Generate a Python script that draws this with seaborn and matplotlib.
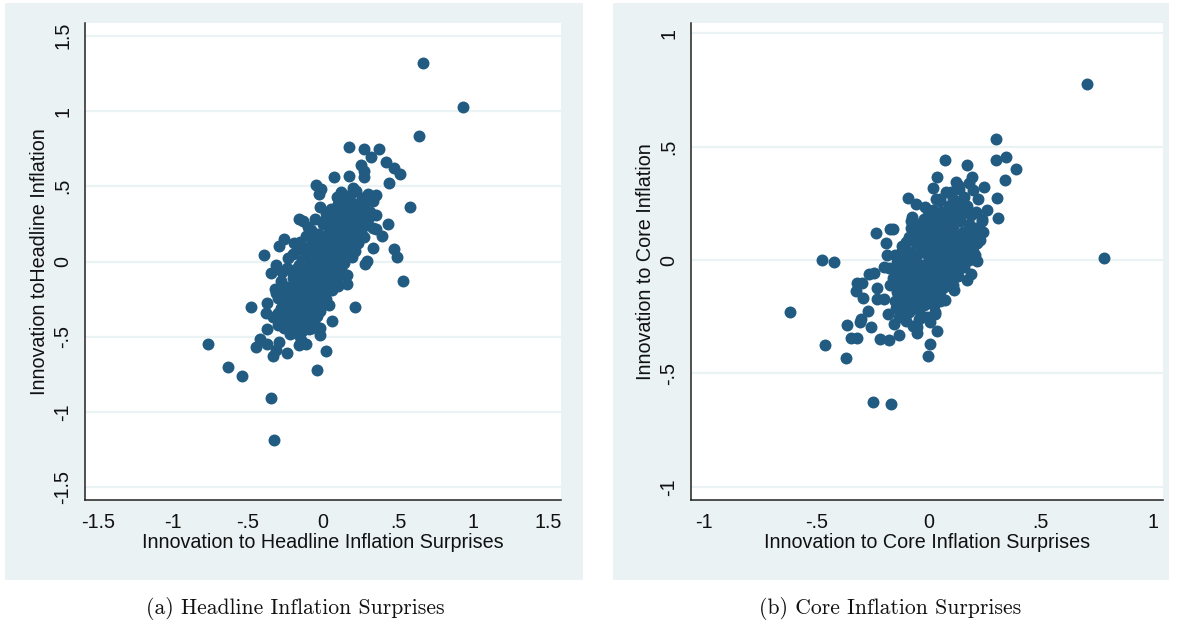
import numpy as np
import pandas as pd
import matplotlib
matplotlib.use("Agg")
import matplotlib.pyplot as plt
import seaborn as sns
from matplotlib.patches import Rectangle
from matplotlib.ticker import FuncFormatter

# ---------------- data ----------------
headline_outer = [
    (0.667, 1.32), (0.93, 1.027), (0.64, 0.835), (0.17, 0.76), (0.275, 0.748), (0.37, 0.745),
    (0.32, 0.695), (0.255, 0.64), (0.42, 0.66), (0.47, 0.62), (0.51, 0.58), (0.275, 0.60),
    (0.175, 0.57), (0.07, 0.56), (0.27, 0.56), (0.44, 0.525), (-0.045, 0.51), (-0.015, 0.485),
    (-0.025, 0.45), (0.58, 0.365), (0.43, 0.25), (0.355, 0.215), (0.39, 0.17), (0.335, 0.09),
    (0.47, 0.085), (0.49, 0.03), (0.29, 0.005), (0.28, -0.015), (0.535, -0.13), (0.16, -0.15),
    (0.21, -0.305), (0.06, -0.395), (0.02, -0.595), (-0.04, -0.72), (-0.02, -0.49), (-0.018, -0.445),
    (-0.395, 0.045), (-0.295, 0.105), (-0.262, 0.15), (-0.157, 0.285), (-0.31, -0.02), (-0.345, -0.075),
    (-0.32, -0.18), (-0.31, -0.21), (-0.477, -0.305), (-0.375, -0.275), (-0.38, -0.345), (-0.375, -0.45),
    (-0.42, -0.515), (-0.445, -0.57), (-0.375, -0.55), (-0.29, -0.535), (-0.31, -0.59), (-0.33, -0.625),
    (-0.237, -0.61), (-0.767, -0.55), (-0.635, -0.703), (-0.54, -0.763), (-0.345, -0.91), (-0.325, -1.185),
    (-0.145, -0.52), (-0.11, -0.55), (-0.16, -0.555), (-0.095, -0.45), (-0.12, -0.395),
]
headline_core = [
    (0.12, 0.46), (0.18, 0.44), (0.22, 0.47), (0.26, 0.42), (0.15, 0.41), (0.30, 0.45), (0.35, 0.44),
    (0.09, 0.43), (0.33, 0.40), (0.20, 0.49),
    (0.05, 0.35), (0.10, 0.38), (0.14, 0.33), (0.19, 0.36), (0.23, 0.31), (0.27, 0.37), (0.31, 0.33),
    (0.02, 0.32), (0.08, 0.30), (0.16, 0.39), (0.25, 0.34), (0.35, 0.31), (-0.02, 0.36), (0.12, 0.36),
    (0.21, 0.38),
    (-0.05, 0.28), (0.00, 0.25), (0.04, 0.22), (0.07, 0.27), (0.11, 0.24), (0.15, 0.29), (0.18, 0.21),
    (0.22, 0.26), (0.26, 0.23), (0.30, 0.28), (-0.10, 0.23), (-0.08, 0.21), (0.02, 0.29), (0.09, 0.20),
    (0.13, 0.27), (0.19, 0.25), (0.24, 0.20), (0.33, 0.22), (-0.13, 0.27), (0.06, 0.24),
    (-0.15, 0.13), (-0.11, 0.17), (-0.07, 0.12), (-0.03, 0.18), (0.01, 0.14), (0.05, 0.19), (0.08, 0.11),
    (0.12, 0.16), (0.16, 0.13), (0.20, 0.18), (0.23, 0.12), (0.27, 0.16), (-0.09, 0.19), (-0.01, 0.10),
    (0.03, 0.16), (0.10, 0.14), (0.14, 0.19), (0.18, 0.10), (-0.19, 0.12), (0.25, 0.19), (0.06, 0.13),
    (-0.05, 0.15),
    (-0.20, 0.05), (-0.16, 0.08), (-0.12, 0.03), (-0.08, 0.07), (-0.04, 0.02), (0.00, 0.06), (0.04, 0.09),
    (0.07, 0.01), (0.11, 0.05), (0.15, 0.08), (0.19, 0.03), (-0.14, 0.01), (-0.10, 0.09), (-0.02, 0.04),
    (0.02, 0.00), (0.09, 0.08), (0.13, 0.02), (0.17, 0.06), (-0.06, 0.00), (0.21, 0.07), (-0.23, 0.02),
    (0.05, 0.04),
    (-0.24, -0.04), (-0.20, -0.08), (-0.16, -0.02), (-0.12, -0.06), (-0.08, -0.03), (-0.04, -0.09),
    (0.00, -0.05), (0.04, -0.02), (0.08, -0.07), (0.12, -0.04), (0.16, -0.09), (-0.18, -0.05),
    (-0.14, -0.10), (-0.10, -0.01), (-0.06, -0.07), (-0.02, -0.01), (0.02, -0.08), (0.06, -0.04),
    (0.10, -0.10), (-0.27, -0.07), (0.14, -0.01), (-0.01, -0.06),
    (-0.28, -0.13), (-0.24, -0.17), (-0.20, -0.11), (-0.16, -0.15), (-0.12, -0.19), (-0.08, -0.12),
    (-0.04, -0.16), (0.00, -0.13), (0.04, -0.18), (0.08, -0.14), (-0.22, -0.20), (-0.18, -0.14),
    (-0.14, -0.12), (-0.10, -0.17), (-0.06, -0.20), (-0.02, -0.11), (0.02, -0.15), (0.06, -0.19),
    (-0.26, -0.18), (0.10, -0.16),
    (-0.30, -0.24), (-0.26, -0.28), (-0.22, -0.22), (-0.18, -0.26), (-0.14, -0.29), (-0.10, -0.23),
    (-0.06, -0.27), (-0.02, -0.21), (0.02, -0.25), (-0.28, -0.21), (-0.20, -0.29), (-0.16, -0.22),
    (-0.12, -0.26), (-0.08, -0.30), (-0.04, -0.24), (0.04, -0.29), (-0.24, -0.25),
    (-0.30, -0.34), (-0.26, -0.38), (-0.22, -0.32), (-0.18, -0.36), (-0.14, -0.31), (-0.10, -0.35),
    (-0.06, -0.39), (-0.02, -0.33), (-0.28, -0.31), (-0.20, -0.39), (-0.16, -0.33), (-0.12, -0.37),
    (-0.08, -0.32), (-0.04, -0.36), (-0.33, -0.37),
    (-0.26, -0.44), (-0.22, -0.48), (-0.18, -0.42), (-0.14, -0.46), (-0.10, -0.43), (-0.06, -0.41),
    (-0.30, -0.42), (-0.24, -0.41), (-0.16, -0.49), (-0.12, -0.40), (-0.20, -0.45),
    (-0.01, 0.00), (0.03, 0.03), (-0.05, -0.04), (-0.09, -0.09), (0.07, 0.07), (0.11, 0.12),
    (-0.13, -0.15), (-0.17, -0.19), (-0.21, -0.24), (-0.25, -0.30), (-0.23, -0.36), (-0.19, -0.31),
    (0.15, 0.16), (0.19, 0.22), (0.23, 0.29), (0.27, 0.34), (0.17, 0.30), (0.13, 0.22), (-0.03, -0.28),
    (-0.11, -0.29), (-0.15, -0.40), (0.00, 0.17), (-0.06, 0.09), (0.09, -0.02), (0.12, 0.42), (0.28, 0.42),
    (-0.07, -0.44), (-0.09, -0.38), (-0.13, -0.34), (-0.05, -0.31), (-0.27, -0.34), (-0.23, -0.29),
    (0.00, -0.20), (0.06, -0.10), (0.10, 0.02), (0.18, 0.14), (0.22, 0.22), (0.04, 0.12), (-0.03, 0.06),
    (-0.12, -0.02), (0.29, 0.24),
]

core_outer = [
    (0.705, 0.775), (0.784, 0.007), (0.30, 0.535), (0.299, 0.442), (0.347, 0.455), (0.388, 0.402),
    (0.34, 0.353), (0.247, 0.32), (0.307, 0.273), (0.31, 0.185), (0.262, 0.22), (0.24, 0.173),
    (0.241, 0.123), (0.215, 0.075), (0.206, 0.02), (0.218, -0.005), (0.19, -0.06), (0.17, -0.088),
    (0.115, -0.13), (0.075, -0.175), (0.075, 0.443), (0.17, 0.42), (0.193, 0.365), (0.039, 0.365),
    (0.02, 0.317), (0.034, 0.27), (0.122, 0.345), (0.136, 0.312), (-0.09, 0.273), (-0.054, 0.247),
    (-0.015, 0.235), (-0.074, 0.19), (-0.077, 0.173), (-0.233, 0.12), (-0.171, 0.135), (-0.16, 0.138),
    (-0.188, 0.075), (-0.185, 0.022), (-0.473, 0.002), (-0.42, -0.01), (-0.619, -0.228), (-0.461, -0.375),
    (-0.367, -0.43), (-0.247, -0.627), (-0.166, -0.635), (-0.003, -0.425), (0.007, -0.372), (0.04, -0.313),
    (0.03, -0.238), (-0.007, -0.252), (0.005, -0.275), (-0.049, -0.322), (-0.049, -0.297), (-0.133, -0.33),
    (-0.176, -0.352), (-0.216, -0.348), (-0.258, -0.295), (-0.317, -0.342), (-0.347, -0.345),
    (-0.364, -0.288), (-0.304, -0.275), (-0.30, -0.258), (-0.268, -0.225), (-0.29, -0.168),
    (-0.325, -0.135), (-0.32, -0.10), (-0.294, -0.10), (-0.263, -0.06), (-0.243, -0.058),
    (-0.196, -0.032), (-0.175, -0.035), (-0.23, -0.122), (-0.196, -0.172), (-0.18, -0.238),
    (-0.154, -0.28), (-0.23, -0.172),
]
core_core = [
    (0.08, 0.30), (0.13, 0.33), (0.16, 0.28), (0.20, 0.31), (0.05, 0.26), (0.11, 0.27), (0.18, 0.34),
    (0.22, 0.27),
    (-0.02, 0.18), (0.02, 0.22), (0.06, 0.17), (0.09, 0.24), (0.12, 0.19), (0.15, 0.23), (0.18, 0.16),
    (0.21, 0.21), (0.04, 0.20), (0.08, 0.15), (0.14, 0.17), (0.17, 0.24), (-0.05, 0.16), (0.24, 0.18),
    (0.10, 0.21),
    (-0.10, 0.08), (-0.06, 0.12), (-0.03, 0.07), (0.00, 0.13), (0.03, 0.09), (0.06, 0.14), (0.09, 0.06),
    (0.12, 0.11), (0.15, 0.08), (0.18, 0.13), (0.20, 0.07), (-0.08, 0.14), (-0.01, 0.10), (0.05, 0.06),
    (0.08, 0.12), (0.11, 0.15), (0.14, 0.05), (0.17, 0.10), (-0.12, 0.06), (0.02, 0.05), (0.22, 0.11),
    (-0.04, 0.09),
    (-0.14, -0.01), (-0.11, 0.03), (-0.08, -0.03), (-0.05, 0.02), (-0.02, -0.04), (0.01, 0.01),
    (0.04, -0.02), (0.07, 0.03), (0.10, -0.01), (0.13, 0.02), (0.16, -0.03), (-0.12, 0.04), (-0.09, 0.00),
    (-0.06, -0.05), (-0.03, 0.04), (0.00, -0.01), (0.03, 0.03), (0.06, -0.04), (0.09, 0.01),
    (0.12, -0.04), (0.15, 0.04), (0.18, 0.00), (-0.15, 0.02), (0.05, 0.00),
    (-0.16, -0.08), (-0.13, -0.12), (-0.10, -0.07), (-0.07, -0.11), (-0.04, -0.06), (-0.01, -0.13),
    (0.02, -0.09), (0.05, -0.14), (0.08, -0.08), (0.11, -0.11), (-0.14, -0.14), (-0.11, -0.09),
    (-0.08, -0.14), (-0.05, -0.10), (-0.02, -0.07), (0.01, -0.11), (0.04, -0.06), (0.07, -0.12),
    (0.13, -0.07), (-0.17, -0.11),
    (-0.15, -0.18), (-0.12, -0.22), (-0.09, -0.17), (-0.06, -0.21), (-0.03, -0.16), (0.00, -0.19),
    (0.03, -0.23), (-0.13, -0.16), (-0.10, -0.24), (-0.07, -0.18), (-0.04, -0.22), (-0.01, -0.17),
    (0.05, -0.18), (-0.11, -0.20),
    (-0.10, -0.27), (-0.07, -0.29), (-0.13, -0.25), (-0.04, -0.26),
    (-0.125, 0.01), (-0.095, -0.025), (-0.065, 0.005), (-0.035, -0.02), (-0.005, 0.025), (0.025, -0.035),
    (0.055, 0.015), (0.085, -0.025), (0.115, 0.025), (0.145, -0.015), (0.175, 0.03),
    (-0.115, 0.06), (-0.085, 0.10), (-0.055, 0.075), (-0.025, 0.115), (0.005, 0.08), (0.035, 0.12),
    (0.065, 0.095), (0.095, 0.13), (0.125, 0.085), (0.155, 0.125), (0.185, 0.09),
    (-0.035, 0.15), (-0.005, 0.19), (0.025, 0.16), (0.055, 0.21), (0.085, 0.18), (0.115, 0.23),
    (0.145, 0.20), (0.19, 0.20),
    (-0.135, -0.05), (-0.105, -0.10), (-0.075, -0.06), (-0.045, -0.12), (-0.015, -0.09), (0.015, -0.14),
    (0.045, -0.10), (0.075, -0.05), (0.105, -0.07),
    (-0.125, -0.165), (-0.095, -0.20), (-0.065, -0.15), (-0.035, -0.19), (-0.005, -0.15), (0.025, -0.20),
    (-0.145, -0.21), (-0.085, -0.23),
    (0.20, 0.04), (0.21, 0.14), (0.23, 0.09), (0.05, 0.27), (0.10, 0.30), (0.14, 0.26),
    (-0.11, -0.045), (-0.08, 0.035), (-0.05, -0.08), (-0.02, 0.055), (0.01, -0.06), (0.04, 0.05),
    (0.07, -0.08), (0.10, 0.05), (0.13, -0.045), (-0.06, -0.16), (-0.02, -0.20), (0.02, -0.16),
    (-0.09, -0.13), (-0.12, -0.08), (0.00, 0.16), (0.03, 0.18), (0.06, 0.19), (0.12, 0.06), (0.16, 0.06),
    (0.09, 0.10), (-0.02, 0.12), (0.04, 0.14), (0.07, 0.07), (-0.07, -0.02), (0.11, -0.06), (0.01, -0.05),
    (-0.03, -0.11),
]

headline_ticks = [-1.5, -1, -0.5, 0, 0.5, 1, 1.5]
core_ticks = [-1, -0.5, 0, 0.5, 1]

panels = [
    dict(points=headline_outer + headline_core, ticks=headline_ticks, lim=(-1.585, 1.585),
         xlabel="Innovation to Headline Inflation Surprises", ylabel="Innovation toHeadline Inflation",
         caption="(a) Headline Inflation Surprises"),
    dict(points=core_outer + core_core, ticks=core_ticks, lim=(-1.058, 1.045),
         xlabel="Innovation to Core Inflation Surprises", ylabel="Innovation to Core Inflation",
         caption="(b) Core Inflation Surprises"),
]

# ---------------- styling ----------------
sns.set_style("white")
plt.rcParams["font.family"] = ["Liberation Sans", "DejaVu Sans"]

W, H = 1185, 626
fig = plt.figure(figsize=(W / 100, H / 100), dpi=100)
fig.patch.set_facecolor("white")

BG = "#eaf2f3"
DOT = "#225b81"

bg_boxes = [(5, 3, 583, 580), (613, 3, 1169, 580)]
ax_boxes = [(85, 23, 561, 500), (691, 23, 1163, 500)]
caption_x = [295, 890]


def fmt(v, pos=None):
    if abs(v) < 1e-9:
        return "0"
    s = ("%g" % v)
    s = s.replace("0.", ".")
    return s


for p, bb, ab, cx in zip(panels, bg_boxes, ax_boxes, caption_x):
    x0, y0, x1, y1 = bb
    fig.patches.append(Rectangle((x0 / W, 1 - y1 / H), (x1 - x0) / W, (y1 - y0) / H,
                                 transform=fig.transFigure, facecolor=BG, edgecolor="none",
                                 zorder=-10))
    l, t, r, b = ab
    ax = fig.add_axes([l / W, 1 - b / H, (r - l) / W, (b - t) / H])
    ax.set_zorder(1)
    ax.set_facecolor("white")
    df = pd.DataFrame(p["points"], columns=["x", "y"])
    sns.scatterplot(data=df, x="x", y="y", ax=ax, color=DOT, s=74, linewidth=0, alpha=1, zorder=3)
    ax.set_xlim(*p["lim"])
    ax.set_ylim(*p["lim"])
    ax.set_xticks(p["ticks"])
    ax.set_yticks(p["ticks"])
    ax.xaxis.set_major_formatter(FuncFormatter(fmt))
    ax.yaxis.set_major_formatter(FuncFormatter(fmt))
    for tk in p["ticks"]:
        ax.axhline(tk, color=BG, lw=1.6, zorder=1)
    for side in ["top", "right"]:
        ax.spines[side].set_visible(False)
    for side in ["left", "bottom"]:
        ax.spines[side].set_color("#222222")
        ax.spines[side].set_linewidth(1.1)
    ax.tick_params(axis="both", direction="out", length=6, width=1.0, color="#222222",
                   labelsize=14.2, labelcolor="#111111", pad=3)
    for lab in ax.get_yticklabels():
        lab.set_rotation(90)
        lab.set_va("center")
    ax.set_xlabel(p["xlabel"], fontsize=14.2, color="#111111", labelpad=1)
    ax.set_ylabel(p["ylabel"], fontsize=14.2, color="#111111", labelpad=3)
    ax.grid(False)
    fig.text(cx / W, 1 - 609 / H, p["caption"], ha="center", va="center",
             fontsize=15.6, family=["cmr10", "DejaVu Serif"], color="#111111")

fig.savefig("out.png", dpi=100, facecolor="white")
